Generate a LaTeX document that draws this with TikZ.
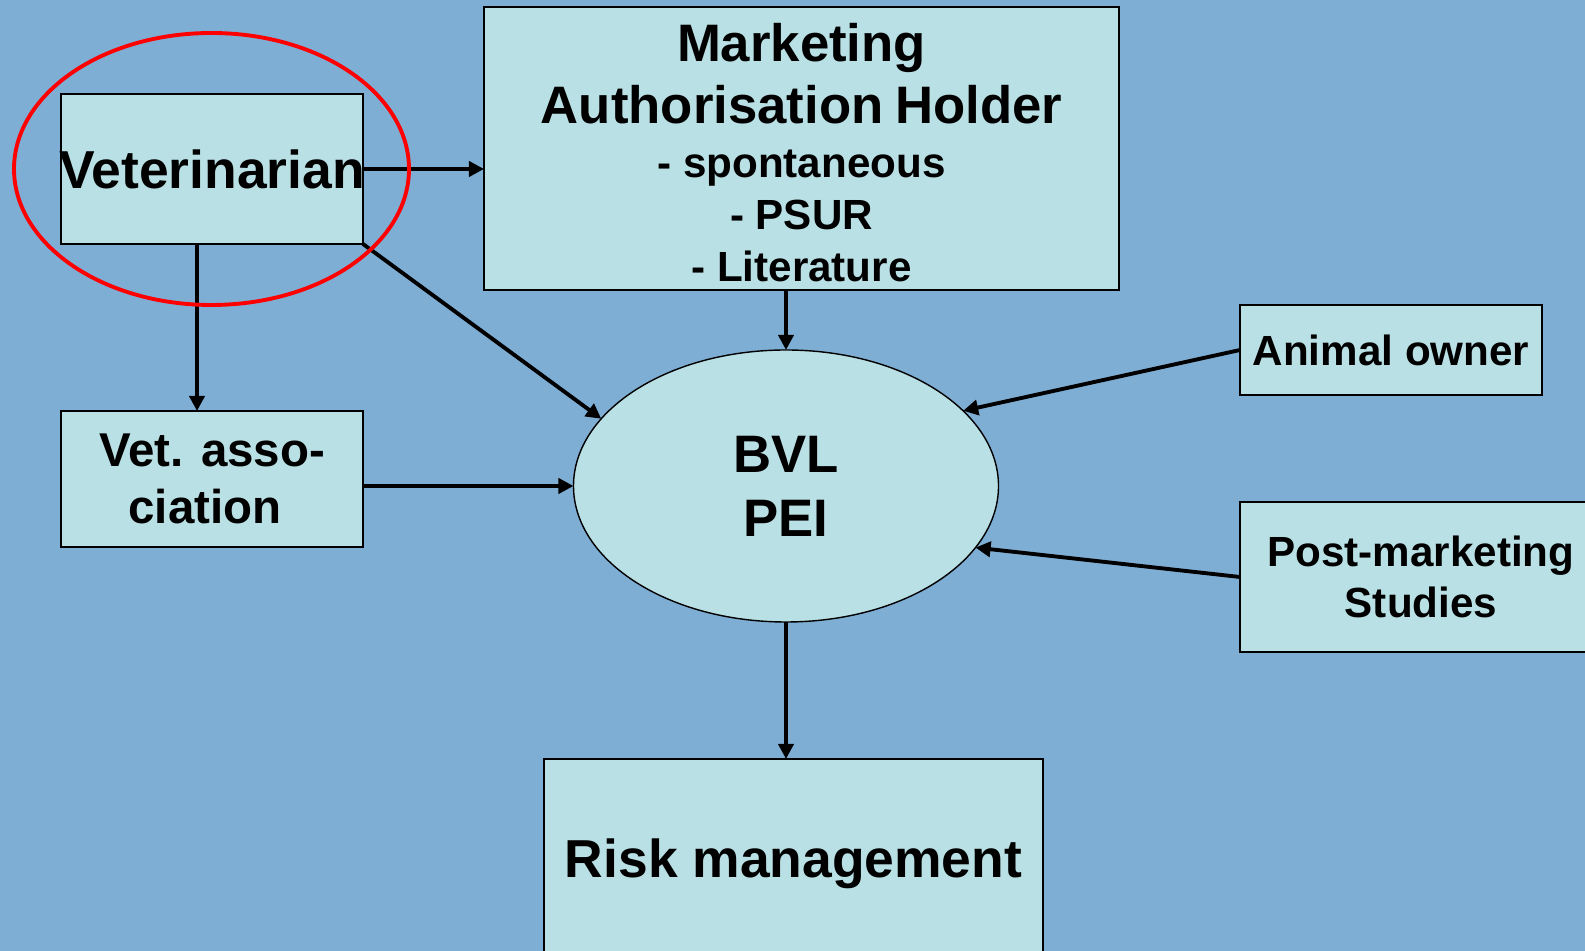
\documentclass[tikz,border=0pt]{standalone}
\usepackage{fontspec}
\setmainfont{Liberation Sans}
\usetikzlibrary{arrows.meta,shapes.geometric}
\definecolor{bgblue}{RGB}{127,174,213}
\definecolor{boxcyan}{RGB}{185,224,228}
\begin{document}
\begin{tikzpicture}[
    box/.style={draw, fill=boxcyan, line width=0.6pt, inner sep=0pt, outer sep=0pt, align=center},
    big/.style={font=\fontsize{15.2}{17.6}\selectfont\bfseries},
    small/.style={font=\fontsize{12}{14.7}\selectfont\bfseries},
    arr/.style={-{Triangle[length=4.3pt,width=4.3pt]}, line width=1.1pt}]
    \fill[bgblue] (0,0) rectangle (15.85,-9.51);
    \useasboundingbox (0,0) rectangle (15.85,-9.51);
    % boxes
    \node[box, big, minimum width=3.02cm, minimum height=1.5cm] (vet) at (2.12,-1.69) {\makebox[2.9cm][c]{Veterinarian}};
    \node[box, font=\fontsize{13.5}{16.2}\selectfont\bfseries, minimum width=3.02cm, minimum height=1.36cm] (vetasso) at (2.12,-4.79) {Vet. asso-\\ciation\hspace*{0.14cm}};
    \node[box, text width=6.35cm, minimum height=2.83cm, font=\bfseries] (mah) at (8.015,-1.485)
        {{\fontsize{15}{17.6}\selectfont Marketing\\Authorisation Holder\par}\vskip0.9pt
         {\fontsize{12}{14.7}\selectfont - spontaneous\\- PSUR\\- Literature\par}\kern-2.2pt};
    \node[box, ellipse, big, line width=0.4pt, minimum width=4.25cm, minimum height=2.72cm, font=\fontsize{15}{18.2}\selectfont\bfseries] (bvl) at (7.86,-4.86) {BVL\\PEI};
    \node[box, small, minimum width=3.02cm, minimum height=0.9cm] (owner) at (13.91,-3.50) {Animal owner};
    \node[box, small, minimum width=3.62cm, minimum height=1.5cm] (studies) at (14.21,-5.77) {Post-marketing\\Studies};
    \node[box, big, minimum width=4.99cm, minimum height=2.1cm] (risk) at (7.935,-8.64) {Risk management};
    % arrows
    \draw[arr] (vet.east) -- (vet.east -| mah.west);
    \draw[arr] ([xshift=-0.15cm]vet.south) -- ([xshift=-0.15cm]vetasso.north);
    \draw[arr] (vet.south east) -- (bvl.160);
    \draw[arr] (vetasso.east |- bvl.west) -- (bvl.west);
    \draw[arr] (mah.south -| bvl.north) -- (bvl.north);
    \draw[arr] (owner.west) -- (bvl.23);
    \draw[arr] (studies.west) -- (bvl.-18);
    \draw[arr] (bvl.south) -- (bvl.south |- risk.north);
    % highlight
    \draw[red, line width=1.1pt] (2.115,-1.69) ellipse [x radius=1.975, y radius=1.36];
\end{tikzpicture}
\end{document}
